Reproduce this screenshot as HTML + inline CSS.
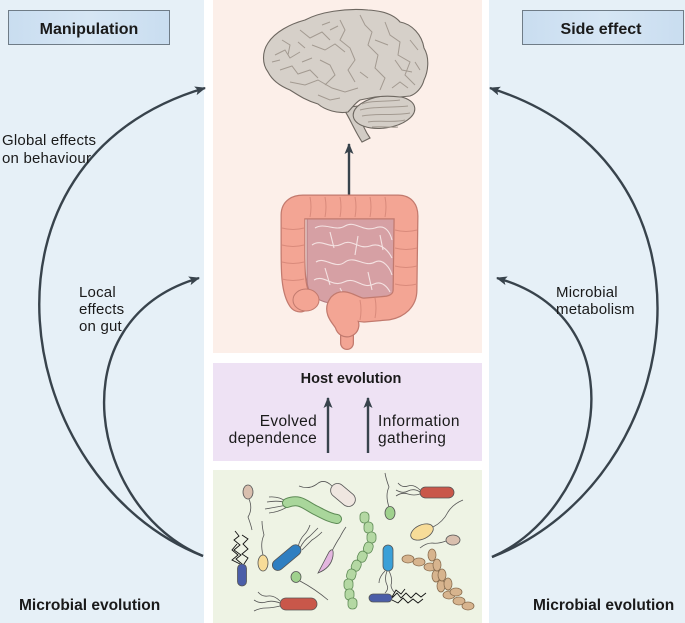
<!DOCTYPE html>
<html><head><meta charset="utf-8"><style>
html,body{margin:0;padding:0;background:#fff;}
svg{display:block;}
text{font-family:"Liberation Sans",sans-serif;fill:#1a1a1a;}
.b{font-weight:bold;}
</style></head><body>
<svg width="685" height="623" viewBox="0 0 685 623" xmlns="http://www.w3.org/2000/svg">
<defs>
<marker id="ah" markerWidth="11" markerHeight="9" refX="10" refY="4.5" orient="auto" markerUnits="userSpaceOnUse">
<path d="M0,0 L11,4.5 L0,9 L2.5,4.5 z" fill="#38434c"/></marker>
<linearGradient id="bx" x1="0" y1="0" x2="1" y2="0"><stop offset="0" stop-color="#c9ddf0"/><stop offset="0.5" stop-color="#d6e6f4"/><stop offset="1" stop-color="#c9ddf0"/></linearGradient>
</defs>
<!-- panels -->
<rect x="0" y="0" width="204" height="623" fill="#e6f0f7"/>
<rect x="489" y="0" width="196" height="623" fill="#e6f0f7"/>
<rect x="213" y="0" width="269" height="353" fill="#fcefe9"/>
<rect x="213" y="363" width="269" height="98" fill="#eee2f4"/>
<rect x="213" y="470" width="269" height="153" fill="#eef3e4"/>
<!-- header boxes -->
<rect x="8.5" y="10.5" width="161" height="34" fill="url(#bx)" stroke="#6f7c87" stroke-width="1"/>
<text x="89" y="34" class="b" font-size="16" text-anchor="middle">Manipulation</text>
<rect x="522.5" y="10.5" width="161" height="34" fill="url(#bx)" stroke="#6f7c87" stroke-width="1"/>
<text x="601" y="34" class="b" font-size="16" text-anchor="middle">Side effect</text>
<!-- curved arrows -->
<g fill="none" stroke="#38434c" stroke-width="2.4">
<path d="M203,556 C10,480 -40,160 205,88" marker-end="url(#ah)"/>
<path d="M203,556 C90,510 55,320 199,278" marker-end="url(#ah)"/>
<path d="M492,557 C690,480 735,165 490,88" marker-end="url(#ah)"/>
<path d="M492,557 C600,510 645,320 497,278" marker-end="url(#ah)"/>
<path d="M349,197 L349,144" marker-end="url(#ah)"/>
<path d="M328,453 L328,398" marker-end="url(#ah)"/>
<path d="M368,453 L368,398" marker-end="url(#ah)"/>
</g>
<!-- labels -->
<text x="2" y="145" font-size="15" letter-spacing="0.2">Global effects</text>
<text x="2" y="163" font-size="15" letter-spacing="0.2">on behaviour</text>
<text x="79" y="297" font-size="15" letter-spacing="0.2">Local</text>
<text x="79" y="314" font-size="15" letter-spacing="0.2">effects</text>
<text x="79" y="331" font-size="15" letter-spacing="0.2">on gut</text>
<text x="556" y="297" font-size="15" letter-spacing="0.2">Microbial</text>
<text x="556" y="314" font-size="15" letter-spacing="0.2">metabolism</text>
<text x="19" y="610" class="b" font-size="15.5">Microbial evolution</text>
<text x="533" y="610" class="b" font-size="15.5">Microbial evolution</text>
<text x="351" y="383" class="b" font-size="14.5" text-anchor="middle">Host evolution</text>
<text x="317" y="426" font-size="15.5" text-anchor="end" letter-spacing="0.3">Evolved</text>
<text x="317" y="443" font-size="15.5" text-anchor="end" letter-spacing="0.3">dependence</text>
<text x="378" y="426" font-size="15.5" letter-spacing="0.4">Information</text>
<text x="378" y="443" font-size="15.5" letter-spacing="0.4">gathering</text>
<!-- brain -->
<g stroke="#6d6760" stroke-width="1.1">
<path d="M343,108 C350,118 353,128 362,142 L370,138 C363,128 360,118 358,106 Z" fill="#d2ccc5"/>
<ellipse cx="384" cy="112" rx="31" ry="16" transform="rotate(-8 384 112)" fill="#d4cec7"/>
<path d="M305,20 C320,12 345,8 368,10 C385,11 395,16 400,22 C412,24 422,35 424,48 C430,58 428,72 424,80 C422,88 416,94 410,96 L400,97 C392,96 383,96 375,97 L360,100 C355,103 352,108 348,112 C338,114 325,110 318,104 C305,100 298,95 290,90 C280,86 272,80 268,72 C262,64 262,52 268,43 C275,32 290,24 305,20 Z" fill="#d6d0c9"/>
</g>
<g fill="none" stroke="#a39a91" stroke-width="1">
<path d="M362,104 C372,100 388,102 400,100 M360,110 C375,106 392,108 408,106 M362,116 C378,113 395,116 410,113 M368,122 C380,120 395,123 405,120 M372,127 C382,126 392,128 398,127"/>
<path d="M275,55 L285,50 L290,58 L300,52 M280,70 L292,66 L298,74 L310,70 L318,78 M300,30 L310,38 L322,32 L330,40 M312,45 L325,50 L335,44 L345,52 M290,82 L305,85 L318,80 L332,88 L345,92 L358,88"/>
<path d="M340,20 L345,30 L340,40 L350,48 L355,60 L348,70 L355,82 M360,15 L365,25 L372,32 L368,45 L378,55 L375,68 L385,78 L380,90 M385,22 L390,35 L400,42 L398,55 L410,62 L405,75 L415,85"/>
<path d="M320,60 L330,65 L335,75 L325,85 M302,62 L312,58 M318,95 L330,100 L340,98 M395,60 L402,70 L412,72 M410,40 L418,50 M330,22 L322,25 M375,40 L388,45"/>
<path d="M282,40 L290,45 L288,55 M298,42 L305,48 M360,72 L368,78 M392,88 L400,82 L408,88 M330,30 L338,26 M415,62 L420,70 M272,62 L280,60"/>
</g>
<!-- gut -->
<path d="M307,217 L397,217 L397,295 C390,305 375,305 365,303 C345,300 335,305 325,302 C312,298 307,290 307,280 Z" fill="#d6a0a4" stroke="#b0787e" stroke-width="1"/>
<g fill="none" stroke="#f4e2e2" stroke-width="1.1">
<path d="M315,228 C325,222 335,232 345,226 C355,220 362,232 375,228 C385,224 390,232 392,240"/>
<path d="M312,245 C322,238 330,250 342,244 C352,238 358,250 370,246 C380,242 388,250 392,258"/>
<path d="M316,262 C325,256 335,270 345,262 C355,255 365,268 375,262 C383,258 390,268 392,275"/>
<path d="M314,280 C324,274 332,288 344,282 C356,276 362,290 374,284 C382,280 388,288 390,292"/>
<path d="M330,232 L334,248 M358,236 L355,255 M325,268 L330,285 M368,272 L372,290 M340,288 L345,298 M380,235 L383,250"/>
</g>
<g fill="none" stroke-linecap="round" stroke-linejoin="round">
<path d="M347,318 L347,343" stroke="#c27a6e" stroke-width="14"/>
<path d="M347,318 L347,343" stroke="#f3a594" stroke-width="11.5"/>
<path d="M300,300 C293,290 293,270 293,250 L293,215 C293,209 297,207 303,207 L398,207 C404,207 406,210 406,216 L405,290 C405,300 398,306 388,308 L365,310 C355,311 345,300 340,305 C335,312 345,318 347,325" stroke="#c27a6e" stroke-width="25"/>
<path d="M300,300 C293,290 293,270 293,250 L293,215 C293,209 297,207 303,207 L398,207 C404,207 406,210 406,216 L405,290 C405,300 398,306 388,308 L365,310 C355,311 345,300 340,305 C335,312 345,318 347,325" stroke="#f3a594" stroke-width="22.5"/>
</g>
<ellipse cx="306" cy="300" rx="13" ry="11" fill="#f3a594" stroke="#c27a6e" stroke-width="1"/>
<g fill="none" stroke="#d98a7b" stroke-width="1">
<path d="M310,197 q2,10 0,20 M325,197 q2,10 0,20 M340,197 q2,10 0,20 M355,197 q2,10 0,20 M370,197 q2,10 0,20 M385,197 q2,10 0,20"/>
<path d="M282,228 q11,3 22,0 M282,245 q11,3 22,0 M282,262 q11,3 22,0 M282,279 q11,3 22,0"/>
<path d="M395,230 q11,3 22,0 M395,248 q11,3 22,0 M395,266 q11,3 22,0 M395,284 q11,3 22,0 M375,298 q2,10 0,20 M360,300 q2,10 0,20"/>
</g>
<!-- bacteria -->
<g stroke="#555" stroke-width="0.8" fill="none">
<path d="M249,499 q4,10 -1,18 q3,8 4,13"/>
<path d="M287,503 q-8,-3 -20,-1 M287,505 q-10,2 -22,4 M287,502 q-8,-6 -18,-5 M287,507 q-8,5 -18,6"/>
<path d="M332,486 q-8,-8 -15,-2 q-8,6 -18,2"/>
<path d="M420,492 q-6,-4 -12,-1 q-5,3 -12,-1 M420,490 q-6,-6 -12,-4 q-6,2 -10,-3 M420,494 q-6,2 -12,0 q-6,-2 -12,2"/>
<path d="M389,507 q-4,-12 0,-20 q-3,-8 -4,-14"/>
<path d="M433,527 q10,-5 15,-15 q5,-8 15,-12"/>
<path d="M446,541 q-8,3 -14,2 q-6,0 -12,5"/>
<path d="M300,548 q4,-8 10,-12 q4,-4 8,-8 M302,550 q6,-6 10,-10 q5,-3 10,-8 M298,547 q2,-8 6,-12 q4,-4 6,-10"/>
<path d="M263,555 q-3,-12 1,-20 q-2,-8 -2,-14"/>
<path d="M332,551 q4,-8 8,-14 q3,-6 6,-10"/>
<path d="M300,581 q15,8 28,19"/>
<path d="M280,603 q-8,-3 -14,-1 q-6,2 -12,-2 M280,601 q-6,-6 -12,-5 q-6,1 -10,-4 M280,606 q-8,2 -14,2 q-6,0 -12,3"/>
<path d="M387,571 q-3,8 0,14 q2,4 -2,8 M389,571 q4,8 2,14 q0,4 4,8 M385,571 q-6,6 -6,12"/>
</g>
<g stroke="#111" stroke-width="0.9" fill="none">
<path d="M242,564 l-6,-5 l5,-4 l-7,-5 l6,-5 l-6,-5 l5,-4 l-4,-5 M244,564 l4,-6 l-6,-4 l6,-5 l-5,-5 l5,-5 l-6,-4 M240,564 l-8,-4 l6,-5 l-6,-5 l5,-6"/>
<path d="M392,598 l5,-5 l4,5 l5,-5 l5,5 l5,-5 l5,4 l5,-4 M392,600 l6,3 l5,-5 l5,5 l5,-4 l5,4 l5,-4 M392,597 l4,-7 l5,4 l4,-5"/>
</g>
<g stroke="#555" stroke-width="0.8">
<ellipse cx="248" cy="492" rx="5" ry="7" fill="#d9bfae"/>
<path d="M287,503 C300,498 305,505 315,510 S330,518 337,519" fill="none" stroke="#5d8a55" stroke-width="10" stroke-linecap="round"/>
<path d="M287,503 C300,498 305,505 315,510 S330,518 337,519" fill="none" stroke="#a9d69b" stroke-width="8" stroke-linecap="round"/>
<rect x="329" y="488" width="28" height="14" rx="7" fill="#efe6e0" transform="rotate(40 343 495)"/>
<rect x="420" y="487" width="34" height="11" rx="5.5" fill="#c9574a"/>
<ellipse cx="390" cy="513" rx="5" ry="6.5" fill="#9fd18d"/>
<ellipse cx="422" cy="532" rx="12" ry="7" fill="#f7dc98" transform="rotate(-25 422 532)"/>
<ellipse cx="453" cy="540" rx="7" ry="5" fill="#d9bfae"/>
<rect x="270" y="552" width="34" height="11" rx="5.5" fill="#2f7fc1" transform="rotate(-40 287 558)"/>
<ellipse cx="263" cy="563" rx="5" ry="8" fill="#f7dc98"/>
<path d="M318,573 L329,552 Q334,546 333,556 Q331,568 318,573 z" fill="#e3b6df"/>
<rect x="237.5" y="564" width="9" height="22" rx="4.5" fill="#4b5ea8"/>
<ellipse cx="296" cy="577" rx="5" ry="5.5" fill="#9fd18d"/>
<rect x="280" y="598" width="37" height="12" rx="6" fill="#c9574a"/>
<rect x="383" y="545" width="10" height="26" rx="5" fill="#3aa0d8"/>
<rect x="369" y="594" width="23" height="8" rx="4" fill="#4b5ea8"/>
</g>
<g fill="#b4d8a3" stroke="#5e8a55" stroke-width="0.8">
<rect x="360" y="512" width="9" height="11" rx="4"/>
<rect x="364" y="522" width="9" height="11" rx="4"/>
<rect x="367" y="532" width="9" height="11" rx="4"/>
<rect x="364" y="542" width="9" height="11" rx="4" transform="rotate(20 368 547)"/>
<rect x="358" y="551" width="9" height="11" rx="4" transform="rotate(25 362 556)"/>
<rect x="352" y="560" width="9" height="11" rx="4" transform="rotate(25 356 565)"/>
<rect x="347" y="569" width="9" height="11" rx="4" transform="rotate(15 351 574)"/>
<rect x="344" y="579" width="9" height="11" rx="4"/>
<rect x="345" y="589" width="9" height="11" rx="4"/>
<rect x="348" y="598" width="9" height="11" rx="4"/>
</g>
<g fill="#d7b48e" stroke="#8a6e50" stroke-width="0.8">
<ellipse cx="408" cy="559" rx="6" ry="4"/><ellipse cx="419" cy="562" rx="6" ry="4"/><ellipse cx="430" cy="567" rx="6" ry="4"/>
<ellipse cx="436" cy="576" rx="4" ry="6"/><ellipse cx="441" cy="586" rx="4" ry="6"/><ellipse cx="449" cy="595" rx="6" ry="4"/>
<ellipse cx="459" cy="601" rx="6" ry="4"/><ellipse cx="468" cy="606" rx="6" ry="4"/>
<ellipse cx="432" cy="555" rx="4" ry="6"/><ellipse cx="437" cy="565" rx="4" ry="6"/><ellipse cx="442" cy="575" rx="4" ry="6"/>
<ellipse cx="448" cy="584" rx="4" ry="6"/><ellipse cx="456" cy="592" rx="6" ry="4"/>
</g>
</svg>
</body></html>
